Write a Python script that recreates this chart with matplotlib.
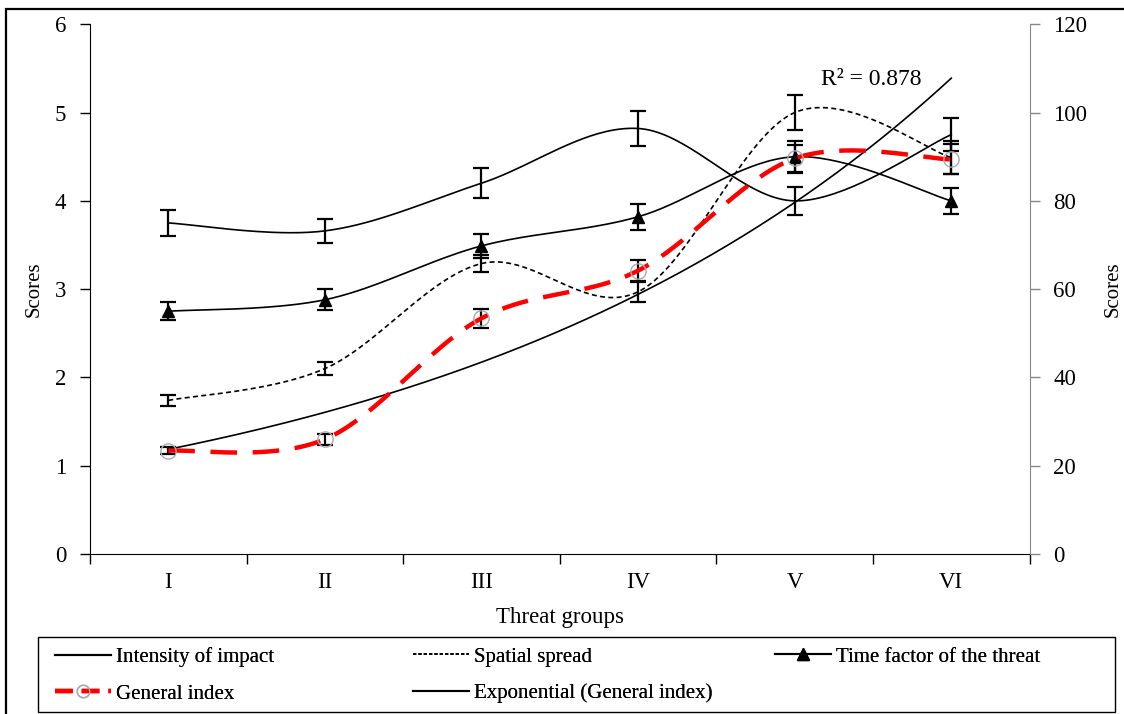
import numpy as np
import matplotlib
matplotlib.use("Agg")
import matplotlib.pyplot as plt
from matplotlib.lines import Line2D
from matplotlib.patches import Rectangle

plt.rcParams['font.family'] = ['Liberation Serif', 'DejaVu Serif']

groups = ['I', 'II', 'III', 'IV', 'V', 'VI']

# left axis series
intensity = [3.75, 3.66, 4.20, 4.82, 4.00, 4.75]
intensity_err = [0.15, 0.14, 0.17, 0.20, 0.16, 0.19]
spatial = [1.74, 2.10, 3.29, 2.97, 5.00, 4.49]
spatial_err = [0.06, 0.07, 0.10, 0.12, 0.20, 0.19]
time_factor = [2.75, 2.88, 3.49, 3.82, 4.50, 4.00]
time_err = [0.10, 0.12, 0.14, 0.15, 0.18, 0.15]

# right axis series
general = [23.4, 26.0, 53.4, 64.2, 89.6, 89.4]
general_err = [0.8, 1.2, 2.2, 2.5, 3.0, 3.4]


def smooth(xs, ys, n=40):
    # excel-like smoothed line (bezier through points)
    xs = np.asarray(xs, float)
    ys = np.asarray(ys, float)
    px = np.concatenate([[xs[0]], xs, [xs[-1]]])
    py = np.concatenate([[ys[0]], ys, [ys[-1]]])
    outx, outy = [], []
    t = np.linspace(0, 1, n)
    for i in range(1, len(px) - 2):
        p0 = np.array([px[i], py[i]])
        p3 = np.array([px[i + 1], py[i + 1]])
        p1 = p0 + (np.array([px[i + 1], py[i + 1]]) - np.array([px[i - 1], py[i - 1]])) / 6
        p2 = p3 - (np.array([px[i + 2], py[i + 2]]) - np.array([px[i], py[i]])) / 6
        b = ((1 - t) ** 3)[:, None] * p0 + (3 * (1 - t) ** 2 * t)[:, None] * p1 \
            + (3 * (1 - t) * t ** 2)[:, None] * p2 + (t ** 3)[:, None] * p3
        outx.extend(b[:, 0])
        outy.extend(b[:, 1])
    return np.array(outx), np.array(outy)


x = np.arange(1, len(groups) + 1)
W, H = 1124, 714

fig = plt.figure(figsize=(11.24, 7.14), dpi=100)
ax = fig.add_axes([0.080, 0.224, 0.836, 0.742])
ax2 = ax.twinx()

lw = 1.2
ebar = dict(fmt='none', ecolor='black', elinewidth=1.6, capsize=6, capthick=1.6)

sx, sy = smooth(x, intensity)
ax.plot(sx, sy, color='black', lw=lw)
ax.errorbar(x, intensity, yerr=intensity_err, **ebar)

sx, sy = smooth(x, spatial)
ax.plot(sx, sy, color='black', lw=lw, dashes=(3, 2))
ax.errorbar(x, spatial, yerr=spatial_err, **ebar)

sx, sy = smooth(x, time_factor)
ax.plot(sx, sy, color='black', lw=lw)
ax.plot(x, time_factor, ls='none', marker='^', color='black', ms=9)
ax.errorbar(x, time_factor, yerr=time_err, **ebar)

# general index on the right axis
sx, sy = smooth(x, general)
ax2.plot(sx, sy, color='#ff0000', lw=3.2, dashes=(6, 3.5), zorder=3)
ax2.plot(x, general, ls='none', marker='o', ms=11, mfc='none', mec='#aaaaaa', mew=1.0, zorder=4)
ax2.errorbar(x, general, yerr=general_err, **ebar)

# exponential trend of general index
b, lna = np.polyfit(x, np.log(general), 1)
xt = np.linspace(1, 6, 200)
ax2.plot(xt, np.exp(lna) * np.exp(b * xt), color='black', lw=lw)
ax.text(5.17, 5.31, 'R² = 0.878', fontsize=17, va='baseline')

ax.set_xlim(0.5, 6.5)
ax.set_ylim(0, 6)
ax2.set_ylim(0, 120)
ax.set_yticks(range(0, 7))
ax2.set_yticks(range(0, 121, 20))
ax.set_xticks(x)
ax.set_xticklabels(groups)
ax.set_xticks(np.arange(0.5, 7.0, 1.0), minor=True)
ax.tick_params(axis='x', which='major', length=0, labelsize=16.5, pad=13)
ax.tick_params(axis='x', which='minor', length=7, width=1, direction='out')
ax.tick_params(axis='y', labelsize=16.5, length=7, width=1, pad=10)
ax2.tick_params(axis='y', labelsize=16.5, length=7, width=1, color='#888888', pad=10)

for a in (ax, ax2):
    a.spines['top'].set_visible(False)
ax2.spines['left'].set_visible(False)
ax2.spines['bottom'].set_visible(False)
ax.spines['right'].set_visible(False)
ax2.spines['right'].set_color('#888888')

ax.set_xlabel('Threat groups', fontsize=16.5, labelpad=10)
ax.set_ylabel('Scores', fontsize=15, labelpad=8)
ax2.set_ylabel('Scores', fontsize=15, labelpad=12)

# outer frame
fig.patches.append(Rectangle((6 / W, -0.05), 1.2, 1 - 9 / H + 0.05, transform=fig.transFigure,
                             fill=False, ec='black', lw=1.6))
# legend frame
fig.patches.append(Rectangle((38 / W, 1 - 712 / H), (1115 - 38) / W, (712 - 637) / H,
                             transform=fig.transFigure, fill=False, ec='black', lw=1.0))

h_int = Line2D([], [], color='black', lw=1.5)
h_gen = Line2D([], [], color='#ff0000', lw=3.2, dashes=(4, 2), marker='o', ms=9, mfc='none', mec='#aaaaaa')
h_spa = Line2D([], [], color='black', lw=1.2, dashes=(2, 1.2))
h_exp = Line2D([], [], color='black', lw=1.5)
h_tim = Line2D([], [], color='black', lw=1.5, marker='^', ms=8)

columns = [
    (55, [h_int, h_gen], ['Intensity of impact', 'General index']),
    (413, [h_spa, h_exp], ['Spatial spread', 'Exponential (General index)']),
    (775, [h_tim], ['Time factor of the threat']),
]
for xpix, hs, ls in columns:
    leg = fig.legend(hs, ls, loc='upper left', bbox_to_anchor=(xpix / W, 1 - 647 / H),
                     fontsize=15, frameon=False, handlelength=2.7, handletextpad=0.25,
                     borderpad=0, borderaxespad=0, labelspacing=0.82)
    fig.add_artist(leg)

fig.savefig('out.png', dpi=100)
